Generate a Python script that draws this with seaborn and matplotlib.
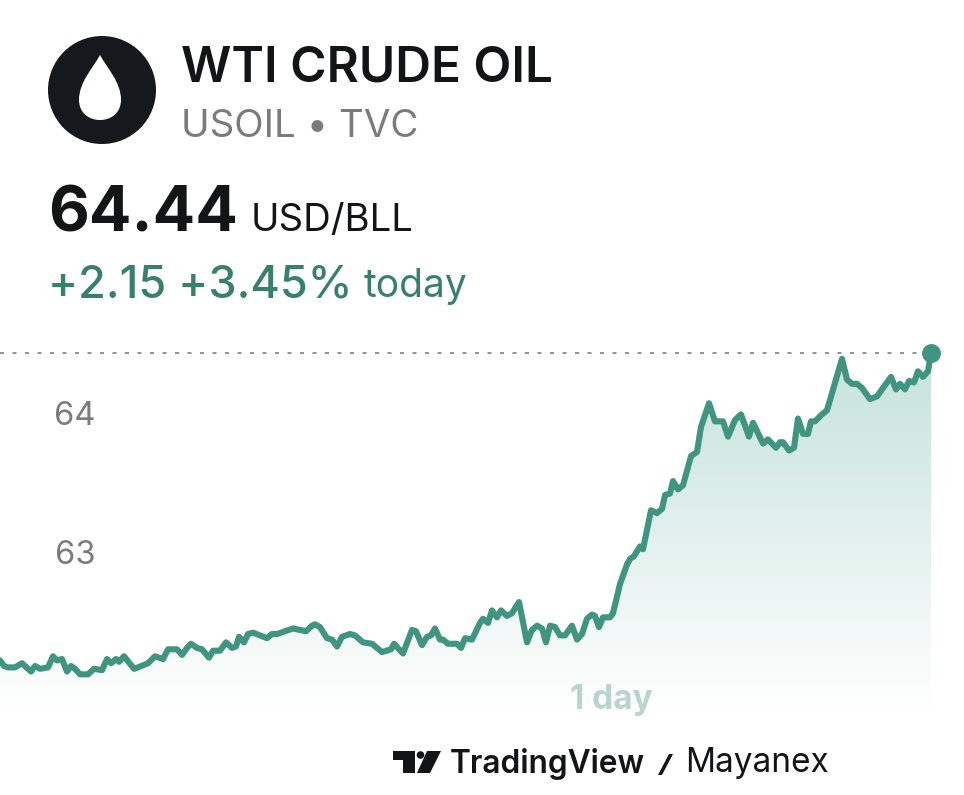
"""WTI crude oil one-day quote card, redrawn with seaborn."""

import numpy as np
import matplotlib.pyplot as plt
import pandas as pd
import seaborn as sns
from matplotlib.patches import Circle, PathPatch, Polygon
from matplotlib.path import Path

# session position along the time axis, and price in USD
session_pos = [
    0, 4, 8, 15, 22, 31, 35, 40, 48, 53, 57, 62, 67, 71, 75, 80, 88, 94, 102, 107,
    111, 116, 119, 124, 134, 138, 148, 155, 163, 168, 177, 182, 187, 191, 197, 202,
    209, 213, 220, 226, 232, 236, 239, 244, 248, 253, 267, 272, 277, 293, 306, 312, 315,
    320, 327, 332, 337, 342, 350, 355, 363, 372, 382, 391, 394, 403, 412, 416, 422,
    427, 431, 435, 440, 443, 448, 457, 461, 465, 472, 480, 483, 488, 492, 497, 501,
    507, 512, 519, 527, 532, 537, 542, 546, 550, 555, 560, 565, 572, 577, 582, 587,
    592, 595, 599, 603, 610, 613, 620, 627, 630, 634, 640, 643,
    651, 657, 662, 665, 670, 673, 678, 683, 691, 697, 701, 709, 715, 723, 728, 735,
    741, 749, 753, 763, 768, 776, 780, 783, 789, 794, 798, 803, 808, 811, 815, 822,
    827, 842, 847, 852, 857, 862, 870, 877, 891, 896, 900, 905, 909, 914, 918, 923,
    928, 931,
]
price = [
    62.22, 62.18, 62.17, 62.17, 62.20, 62.14, 62.18, 62.16, 62.17, 62.25, 62.22, 62.23,
    62.14, 62.18, 62.16, 62.12, 62.12, 62.16, 62.15, 62.23, 62.20, 62.23, 62.21, 62.25,
    62.16, 62.17, 62.20, 62.25, 62.23, 62.30, 62.30, 62.26, 62.31, 62.34, 62.31, 62.30,
    62.24, 62.29, 62.29, 62.35, 62.31, 62.32, 62.39, 62.35, 62.41, 62.42, 62.38, 62.41,
    62.41, 62.45, 62.43, 62.47, 62.48,
    62.46, 62.38, 62.37, 62.32, 62.39, 62.41, 62.40, 62.35, 62.34, 62.28, 62.30, 62.34,
    62.27, 62.44, 62.43, 62.33, 62.39, 62.40, 62.45, 62.37, 62.37, 62.34, 62.34, 62.31,
    62.38, 62.37, 62.49, 62.52, 62.49, 62.58, 62.53, 62.58, 62.54, 62.56, 62.64, 62.35,
    62.44, 62.47, 62.45, 62.35, 62.47, 62.46, 62.40, 62.40, 62.47, 62.37, 62.41, 62.52,
    62.55, 62.54, 62.46, 62.53, 62.53, 62.56, 62.77, 62.91, 62.95, 62.97, 63.04, 63.02,
    63.30, 63.28, 63.31, 63.41, 63.42, 63.51, 63.45, 63.48, 63.69, 63.72, 63.90, 64.07,
    63.94, 63.94, 63.83, 63.95, 63.99, 63.83, 63.93, 63.78, 63.81, 63.75, 63.79, 63.79,
    63.73, 63.75, 63.96, 63.85, 63.85, 63.94, 63.94, 63.99, 64.02, 64.39, 64.24, 64.21,
    64.21, 64.18, 64.10, 64.12, 64.26, 64.17, 64.21, 64.17, 64.23, 64.22, 64.30, 64.26,
    64.30, 64.43,
]
price_ticks = [64, 63]
prev_level = 64.43

name = "WTI CRUDE OIL"
ticker = "USOIL • TVC"
last_price = "64.44"
unit = "USD/BLL"
change = "+2.15 +3.45%"
period = "today"
range_label = "1 day"

LINE = "#3f9580"
GREEN_TEXT = "#38806e"
GREY = "#7b7b7b"
INK = "#131416"
FONT = "Inter"

sns.set_theme(style="white")
plt.rcParams["font.family"] = [FONT, "DejaVu Sans"]

df = pd.DataFrame({"pos": session_pos, "price": price})

fig = plt.figure(figsize=(9.64, 7.95), dpi=100, facecolor="white")
ax = fig.add_axes([0, 0, 1, 1])
ax.set_xlim(0, 964)
ax.set_ylim(61.252, 66.971)
floor = 61.83

# gradient area under the line
area = ax.fill_between(df["pos"], df["price"], floor, facecolor="none", edgecolor="none")
rgba = np.ones((256, 1, 4))
rgba[..., :3] = (0.247, 0.62, 0.53)
rgba[..., 3] = np.linspace(0.30, 0.0, 256)[:, None]
im = ax.imshow(rgba, extent=(0, 964, floor, 64.44), aspect="auto", origin="upper", zorder=1)
ax.set_xlim(0, 964)
ax.set_ylim(61.252, 66.971)
im.set_clip_path(area.get_paths()[0], transform=ax.transData)

ax.axhline(prev_level, xmax=931 / 964, color="#7f7f7f", lw=1.2, ls=(0, (2.4, 5.1)), zorder=2)
sns.lineplot(data=df, x="pos", y="price", sort=False, errorbar=None, color=LINE, lw=4.4,
             solid_joinstyle="round", solid_capstyle="round", ax=ax, zorder=3)
sns.scatterplot(x=df["pos"].iloc[-1:], y=df["price"].iloc[-1:], color=LINE, s=185,
                linewidth=0, ax=ax, zorder=4)

ax.set_xlabel("")
ax.set_ylabel("")
ax.set_xticks([])
ax.set_yticks(price_ticks)
ax.set_yticklabels([str(t) for t in price_ticks], color=GREY, fontsize=23.5)
ax.tick_params(axis="y", length=0, pad=-68.5)
sns.despine(ax=ax, left=True, bottom=True)

# header, footer and logos in pixel coordinates
top = fig.add_axes([0, 0, 1, 1], facecolor="none")
top.set_xlim(0, 964)
top.set_ylim(795, 0)
top.axis("off")

top.add_patch(Circle((102, 90), 54, color="#15181c", lw=0))
drop = Path(
    [(100, 55), (93, 68), (79, 82), (79, 100), (79, 112), (88, 120), (100, 120),
     (112, 120), (121, 112), (121, 100), (121, 82), (107, 68), (100, 55)],
    [Path.MOVETO] + [Path.CURVE4] * 12,
)
top.add_patch(PathPatch(drop, facecolor="white", lw=0))

top.text(181, 82, name, fontsize=35.6, color=INK, weight="semibold")
top.text(181, 137, ticker, fontsize=27.7, color=GREY)
top.text(48, 231, last_price, fontsize=45.3, color=INK, weight="bold")
top.text(251, 231, unit, fontsize=27.6, color=INK)
top.text(48, 297, change, fontsize=32.4, color=GREEN_TEXT, weight="medium")
top.text(364, 297, period, fontsize=28, color=GREEN_TEXT)
top.text(570, 709, range_label, fontsize=24, color="#b7d5cd", weight="bold")

# TradingView mark
top.add_patch(Polygon([(393, 751), (415, 751), (415, 773), (403, 773), (403, 760), (393, 760)],
                      color=INK, lw=0))
top.add_patch(Circle((420.5, 755), 3.8, color=INK, lw=0))
top.add_patch(Polygon([(427, 751), (441, 751), (430, 773), (417, 773)], color=INK, lw=0))
top.text(450, 773, "TradingView", fontsize=22.8, color=INK, weight="semibold")
top.add_patch(Polygon([(669, 754), (673, 754), (662, 775), (658, 775)], color=INK, lw=0))
top.text(685, 772, "Mayanex", fontsize=24, color=INK)

fig.savefig("out.png", dpi=100)
